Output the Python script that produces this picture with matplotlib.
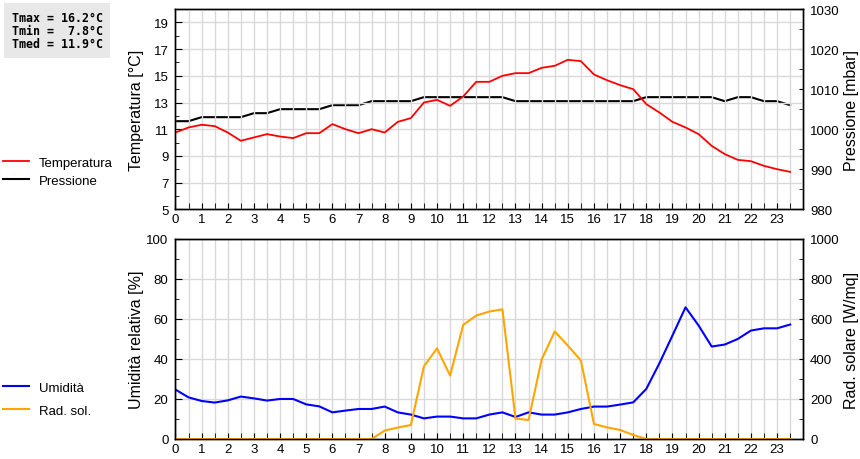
import numpy as np
import matplotlib.pyplot as plt
from matplotlib.ticker import MultipleLocator

plt.rcParams['font.family'] = ['Liberation Sans', 'DejaVu Sans']

# ore del giorno, una misura ogni mezz'ora
ore = np.arange(48) * 0.5

temperatura = [10.75, 11.13, 11.33, 11.23, 10.75, 10.13, 10.38, 10.63, 10.45, 10.33,
               10.7, 10.7, 11.38, 11.0, 10.7, 11.0, 10.75, 11.55, 11.83, 13.0,
               13.2, 12.75, 13.45, 14.55, 14.55, 15.0, 15.2, 15.2, 15.6, 15.75,
               16.2, 16.1, 15.1, 14.67, 14.3, 14.0, 12.88, 12.25, 11.55, 11.13,
               10.63, 9.75, 9.13, 8.7, 8.6, 8.25, 8.0, 7.8]

pressione = [1002, 1002, 1003, 1003, 1003, 1003, 1004, 1004, 1005, 1005,
             1005, 1005, 1006, 1006, 1006, 1007, 1007, 1007, 1007, 1008,
             1008, 1008, 1008, 1008, 1008, 1008, 1007, 1007, 1007, 1007,
             1007, 1007, 1007, 1007, 1007, 1007, 1008, 1008, 1008, 1008,
             1008, 1008, 1007, 1008, 1008, 1007, 1007, 1006]

umidita = [24.7, 20.8, 19, 18.2, 19.3, 21.2, 20.3, 19.2, 20, 20,
           17.3, 16.3, 13.3, 14.2, 15, 15, 16.2, 13.3, 12.2, 10.3,
           11.2, 11.2, 10.3, 10.3, 12.2, 13.3, 11.0, 13.3, 12.2, 12.2,
           13.3, 15, 16.2, 16.2, 17.2, 18.3, 25, 37.8, 51.7, 65.8,
           56.7, 46.2, 47.2, 50, 54.2, 55.3, 55.3, 57.2]

radiazione = [0, 0, 0, 0, 0, 0, 0, 0, 0, 0,
              0, 0, 0, 0, 0, 0, 42, 57, 70, 363,
              453, 317, 570, 617, 637, 648, 102, 95, 397, 537,
              467, 392, 75, 58, 45, 20, 0, 0, 0, 0,
              0, 0, 0, 0, 0, 0, 0, 0]

riepilogo = "Tmax = 16.2°C\nTmin =  7.8°C\nTmed = 11.9°C"

fig = plt.figure(figsize=(8.6, 4.6), dpi=100)
ax1 = fig.add_axes([0.204, 0.543, 0.730, 0.435])
ax3 = fig.add_axes([0.204, 0.0435, 0.730, 0.435])
ax2 = ax1.twinx()
ax4 = ax3.twinx()

grid_col = '#d9d9d9'
tick_fs = 9.5
label_fs = 11.5

def stile_x(ax):
    ax.set_xlim(0, 24)
    ax.xaxis.set_minor_locator(MultipleLocator(0.5))
    ax.set_xticks(np.arange(24))
    ax.grid(True, which='both', axis='x', color=grid_col, linewidth=1)
    ax.grid(True, which='major', axis='y', color=grid_col, linewidth=1)
    ax.set_axisbelow(True)
    ax.tick_params(axis='x', which='both', direction='in', length=4, labelsize=tick_fs, pad=3)
    ax.tick_params(axis='y', which='both', direction='in', labelsize=tick_fs, pad=5)
    ax.tick_params(axis='y', which='major', length=5)
    ax.tick_params(axis='y', which='minor', length=3)

def stile_dx(ax):
    ax.tick_params(axis='y', which='both', direction='in', labelsize=tick_fs, pad=5, length=3)

def etichetta(ax, testo, xpos):
    ax.set_ylabel(testo, fontsize=label_fs)
    ax.yaxis.set_label_coords(xpos, 0.5)
    ax.yaxis.label.set_verticalalignment('center')

# grafico superiore: temperatura e pressione
stile_x(ax1)
ax1.set_ylim(5, 20)
ax1.set_yticks(np.arange(5, 20, 2))
ax1.yaxis.set_minor_locator(MultipleLocator(1))
etichetta(ax1, 'Temperatura [°C]', -0.0613)

ax2.set_ylim(980, 1030)
ax2.yaxis.set_major_locator(MultipleLocator(10))
ax2.yaxis.set_minor_locator(MultipleLocator(5))
stile_dx(ax2)
etichetta(ax2, 'Pressione [mbar]', 1.077)

lp, = ax2.plot(ore, pressione, color='black', linewidth=1.5)
ax1.set_zorder(ax2.get_zorder() + 1)
ax1.patch.set_visible(False)
lt, = ax1.plot(ore, temperatura, color='red', linewidth=1.3)

# grafico inferiore: umidità e radiazione solare
stile_x(ax3)
ax3.set_ylim(0, 100)
ax3.yaxis.set_major_locator(MultipleLocator(20))
ax3.yaxis.set_minor_locator(MultipleLocator(10))
etichetta(ax3, 'Umidità relativa [%]', -0.0613)

ax4.set_ylim(0, 1000)
ax4.yaxis.set_major_locator(MultipleLocator(200))
ax4.yaxis.set_minor_locator(MultipleLocator(100))
stile_dx(ax4)
etichetta(ax4, 'Rad. solare [W/mq]', 1.077)

lu, = ax3.plot(ore, umidita, color='#0000ff', linewidth=1.5)
lr, = ax4.plot(ore, radiazione, color='#ffa500', linewidth=1.5)

for ax in (ax1, ax2, ax3, ax4):
    for s in ax.spines.values():
        s.set_linewidth(1)

fig.legend(handles=[lt, lp], labels=['Temperatura', 'Pressione'],
           loc='upper left', bbox_to_anchor=(0.004, 0.658), frameon=False,
           fontsize=9.5, handlelength=1.9, handletextpad=0.76,
           borderaxespad=0, borderpad=0, labelspacing=0.45)
fig.legend(handles=[lu, lr], labels=['Umidità', 'Rad. sol.'],
           loc='upper left', bbox_to_anchor=(0.004, 0.168), frameon=False,
           fontsize=9.5, handlelength=1.9, handletextpad=0.76,
           borderaxespad=0, borderpad=0, labelspacing=0.8)

fig.text(0.0135, 0.974, riepilogo, family='DejaVu Sans Mono', weight='bold',
         fontsize=8.4, va='top', ha='left', linespacing=1.02,
         bbox=dict(facecolor='#e8e8e8', edgecolor='none', pad=5.5))

fig.savefig('out.png', dpi=100)
